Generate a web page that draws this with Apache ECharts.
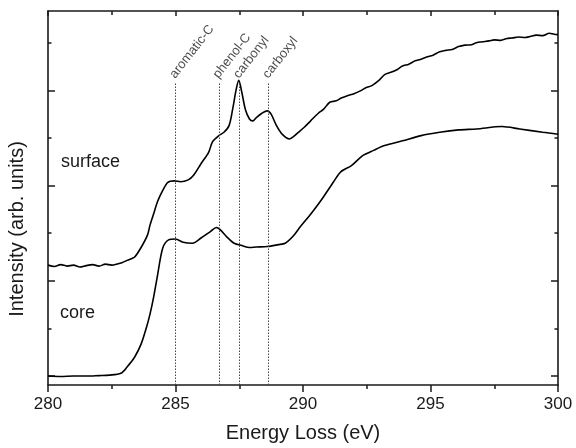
<!DOCTYPE html>
<html>
<head>
<meta charset="utf-8">
<script src="https://cdn.jsdelivr.net/npm/echarts@6/dist/echarts.min.js"></script>
<style>
html,body{margin:0;padding:0;background:#fff;}
#chart{width:576px;height:448px;}
</style>
</head>
<body>
<div id="chart"></div>
<script>
// ---- data ----
const surfaceE = [280.0,280.25,280.5,280.75,281.0,281.25,281.5,281.75,282.0,282.25,282.5,282.75,282.9,283.1,283.25,283.4,283.65,283.9,284.0,284.15,284.3,284.5,284.7,284.95,285.2,285.5,285.7,286.0,286.3,286.45,286.7,286.9,287.1,287.24,287.38,287.48,287.6,287.74,287.9,288.03,288.17,288.39,288.6,288.75,288.96,289.18,289.47,289.6,289.82,290.04,290.3,290.6,290.8,291.05,291.3,291.5,291.76,292.0,292.25,292.48,292.7,293.0,293.2,293.45,293.7,293.9,294.15,294.4,294.6,294.85,295.1,295.36,295.6,295.85,296.1,296.35,296.6,296.8,297.05,297.3,297.5,297.75,298.0,298.2,298.45,298.7,298.9,299.15,299.4,299.66,299.85,300.0];
const surfaceV = [2.33,2.30,2.34,2.31,2.33,2.29,2.32,2.34,2.31,2.35,2.33,2.36,2.38,2.43,2.46,2.50,2.70,2.96,3.17,3.42,3.67,3.90,4.07,4.10,4.08,4.12,4.21,4.46,4.70,4.92,5.05,5.12,5.26,5.60,6.02,6.21,5.96,5.60,5.40,5.36,5.43,5.52,5.57,5.50,5.26,5.08,4.98,5.02,5.12,5.22,5.36,5.52,5.60,5.75,5.78,5.84,5.89,5.93,5.99,6.06,6.10,6.22,6.33,6.38,6.44,6.51,6.55,6.62,6.65,6.70,6.74,6.81,6.84,6.86,6.92,6.95,6.96,7.00,7.02,7.04,7.06,7.05,7.09,7.10,7.12,7.11,7.13,7.16,7.15,7.20,7.18,7.17];

const coreE = [280.0,280.5,281.0,281.5,282.0,282.4,282.86,283.1,283.4,283.65,283.86,284.0,284.15,284.3,284.5,284.73,285.0,285.3,285.66,286.0,286.38,286.6,286.74,287.0,287.3,287.6,287.9,288.17,288.6,289.03,289.3,289.6,289.9,290.33,290.76,291.2,291.48,291.9,292.34,292.77,293.2,293.9,294.63,295.36,296.1,296.8,297.8,298.5,299.4,300.0];
const coreV = [0.0,-0.01,0.0,0.0,0.01,0.02,0.06,0.19,0.40,0.67,1.02,1.30,1.68,2.13,2.69,2.86,2.88,2.81,2.79,2.90,3.04,3.12,3.08,2.93,2.79,2.74,2.70,2.71,2.72,2.76,2.79,2.93,3.14,3.42,3.73,4.08,4.29,4.42,4.63,4.74,4.84,4.94,5.05,5.12,5.17,5.19,5.24,5.19,5.12,5.08];

const peakEnergies = [285.0, 286.7, 287.5, 288.65];
const peakLabels = ['aromatic-C', 'phenol-C', 'carbonyl', 'carboxyl'];
const peakLineTop = 6.17;

const xTicks = [280, 285, 290, 295, 300];
const yMajorTicks = [0, 2, 4, 6];
const yMinorTicks = [1, 3, 5, 7];
const Y_MIN = -0.1875, Y_MAX = 7.667;

// ---- build chart ----
const zip = (a, b) => a.map((v, i) => [v, b[i]]);
const FONT = '"Liberation Sans", Arial, sans-serif';
const AX = '#1a1a1a';

function yAx(pos, values, len, showLine) {
  return {
    type: 'value', position: pos, min: Y_MIN, max: Y_MAX,
    axisLine: { show: showLine, onZero: false, lineStyle: { color: AX, width: 1.6 } },
    axisTick: { show: true, inside: true, length: len, customValues: values, lineStyle: { color: AX, width: 1.5 } },
    axisLabel: { show: false }, splitLine: { show: false }
  };
}

const chart = echarts.init(document.getElementById('chart'), null, { renderer: 'canvas' });
chart.setOption({
  animation: false,
  backgroundColor: '#fff',
  grid: { left: 48, right: 18, top: 11, bottom: 60 },
  xAxis: [
    {
      type: 'value', position: 'bottom', min: xTicks[0], max: xTicks[xTicks.length - 1], interval: 5,
      axisLine: { onZero: false, lineStyle: { color: AX, width: 1.6 } },
      axisTick: { inside: false, length: 7, lineStyle: { color: AX, width: 1.5 } },
      minorTick: { show: true, splitNumber: 2, length: 4, lineStyle: { color: AX, width: 1.5 } },
      axisLabel: { fontSize: 17, color: '#1a1a1a', fontFamily: FONT, margin: 11 },
      splitLine: { show: false }, minorSplitLine: { show: false },
      name: 'Energy Loss (eV)', nameLocation: 'middle', nameGap: 38,
      nameTextStyle: { fontSize: 20, color: '#1a1a1a', fontFamily: FONT }
    },
    {
      type: 'value', position: 'top', min: xTicks[0], max: xTicks[xTicks.length - 1], interval: 5,
      axisLine: { onZero: false, lineStyle: { color: AX, width: 1.6 } },
      axisTick: { inside: true, length: 5, lineStyle: { color: AX, width: 1.5 } },
      minorTick: { show: true, splitNumber: 2, length: 4, lineStyle: { color: AX, width: 1.5 } },
      axisLabel: { show: false }, splitLine: { show: false }
    }
  ],
  yAxis: [
    yAx('left', yMajorTicks, 7, true),
    yAx('left', yMinorTicks, 3.5, false),
    yAx('right', yMajorTicks, 7, true),
    yAx('right', yMinorTicks, 3.5, false)
  ],
  series: [
    {
      type: 'line', name: 'surface', data: zip(surfaceE, surfaceV), showSymbol: false, smooth: 0.3,
      lineStyle: { color: '#000', width: 1.6 }, z: 3
    },
    {
      type: 'line', name: 'core', data: zip(coreE, coreV), showSymbol: false, smooth: 0.3,
      lineStyle: { color: '#000', width: 1.6 }, z: 3,
      markLine: {
        silent: true, symbol: 'none', animation: false,
        lineStyle: { color: '#444', width: 1, type: [1.5, 1.5] },
        label: { show: false },
        data: peakEnergies.map(e => [{ coord: [e, Y_MIN] }, { coord: [e, peakLineTop] }])
      }
    },
    {
      type: 'scatter', data: peakEnergies.map((e, i) => ({ value: [e, peakLineTop], name: peakLabels[i] })),
      symbolSize: 1, itemStyle: { color: 'rgba(0,0,0,0)' }, silent: true,
      label: {
        show: true, formatter: p => p.name, position: 'top', distance: 9, offset: [-5, 0],
        align: 'left', verticalAlign: 'middle', rotate: 52,
        fontSize: 13, color: '#1a1a1a', fontFamily: FONT
      }
    }
  ],
  graphic: [
    { type: 'text', x: 17, y: 229, rotation: Math.PI / 2,
      style: { text: 'Intensity (arb. units)', fontSize: 20, fontFamily: FONT, fill: '#1a1a1a', align: 'center', verticalAlign: 'middle' } },
    { type: 'text', x: 61, y: 162,
      style: { text: 'surface', fontSize: 18, fontFamily: FONT, fill: '#1a1a1a', align: 'left', verticalAlign: 'middle' } },
    { type: 'text', x: 60, y: 313,
      style: { text: 'core', fontSize: 18, fontFamily: FONT, fill: '#1a1a1a', align: 'left', verticalAlign: 'middle' } }
  ]
});
</script>
</body>
</html>
